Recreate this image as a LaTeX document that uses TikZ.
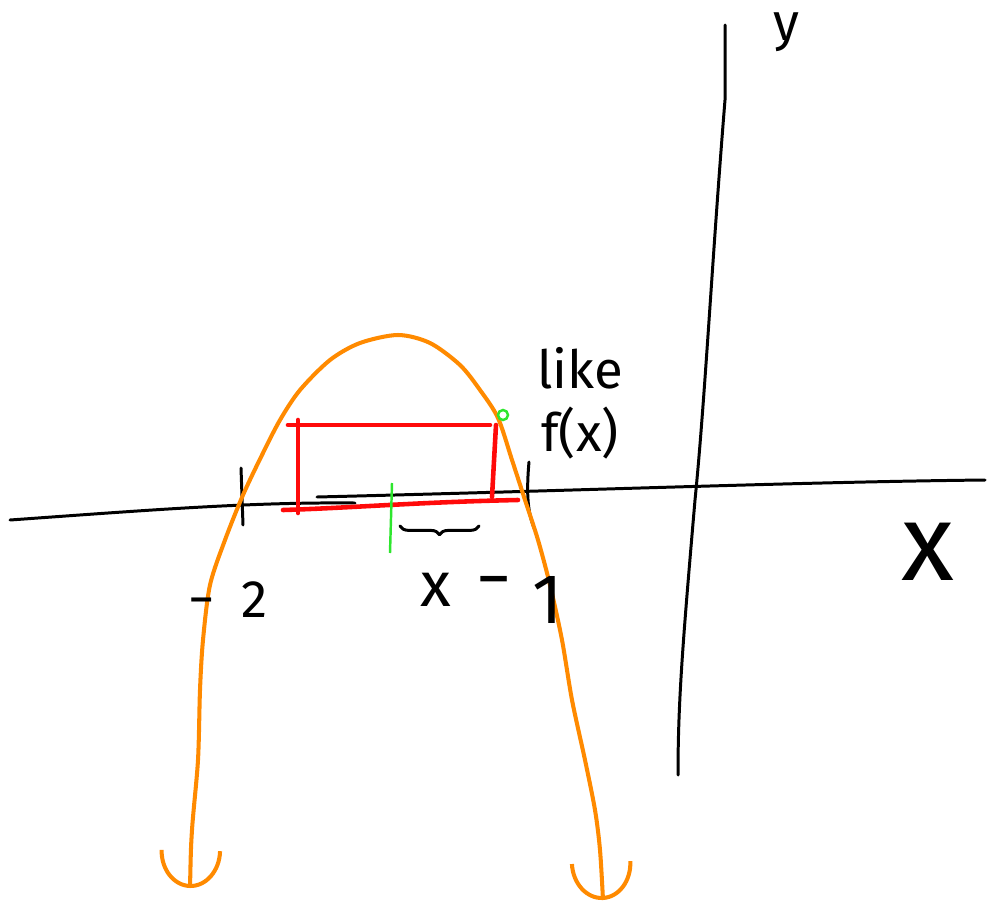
\documentclass[tikz,border=0pt]{standalone}
\usepackage{fontspec}
\setmainfont{Fira Sans}
\usetikzlibrary{arrows.meta,positioning,decorations.pathreplacing}
\definecolor{PenOrange}{HTML}{FF8A00}
\definecolor{PenRed}{HTML}{FF0A0A}
\definecolor{PenGreen}{HTML}{2EE62E}
\tikzset{
  % Pen strokes
  pen/.style={line width=1.7pt,line cap=round,line join=round},
  ax/.style={pen,draw=black},
  curve/.style={line width=2.3pt,draw=PenOrange,line cap=round,line join=round,
                {Arc Barb[length=0.75cm,width=1.25cm]}-{Arc Barb[length=0.75cm,width=1.25cm]}},
  box/.style={line width=2.6pt,draw=PenRed,line cap=round},
  hint/.style={line width=1.4pt,draw=PenGreen},
  % Handwritten labels
  hand/.style={inner sep=0pt,font=\fontsize{30}{32}\selectfont},
  big/.style={inner sep=0pt,font=\fontsize{62}{64}\selectfont}
}
\begin{document}
\begin{tikzpicture}[x=0.02cm,y=-0.02cm]
  \useasboundingbox (0,0) rectangle (987,906);

  % axes
  \draw[ax] (10,520) .. controls (150,510) and (250,502) .. (355,503);
  \draw[ax] (317,497) .. controls (600,490) and (800,482) .. (985,480);
  \draw[ax] (725,25) -- (725,100) .. controls (712,260) and (705,400) .. (695,500)
            .. controls (683,640) and (678,700) .. (678,775);

  % ticks
  \draw[ax] (241,468) -- (243,525);
  \draw[ax] (529,462) .. controls (526,495) and (528,515) .. (535,530);

  % parabola
  \draw[curve] plot[smooth] coordinates {(190,888) (192,830) (198,760) (200,690)
      (203,640) (210,585) (225,540) (243,495) (262,455) (280,420) (300,390)
      (330,360) (360,343) (398,335) (430,343) (460,365) (480,390) (498,418)
      (512,460) (525,500) (538,540) (550,585) (562,640) (572,700) (585,760)
      (595,810) (600,850) (603,900)};

  % rectangle under the curve
  \draw[box] (288,425) -- (490,425);
  \draw[box] (298,420) -- (298,513);
  \draw[box] (496,425) -- (492,497);
  \draw[box] (283,510) .. controls (350,508) and (420,502) .. (518,500);

  % green marks
  \draw[hint] (392,483) -- (390,553);
  \draw[hint] (503,415) circle[radius=5];

  % half width
  \draw[ax,decorate,decoration={brace,mirror,amplitude=5pt}] (400,526) -- (479,526);

  % labels
  \node[hand] (ylab) at (786,32) {y};
  \node[big] (xlab) at (928,552) {x};
  \node[hand] (mtwo) at (228,600) {−\hspace{0.5em}2};
  \node[hand,font=\fontsize{36}{38}\selectfont] (xvar) at (436,590) {x};
  \node[hand,font=\fontsize{40}{42}\selectfont] (mone) at (520,600) {\raisebox{0.3em}{−}\hspace{0.3em}1};
  \node[hand] (like) at (580,368) {like};
  \node[hand,below=0.35cm of like.south,anchor=north] (fx) {f(x)};
\end{tikzpicture}
\end{document}
